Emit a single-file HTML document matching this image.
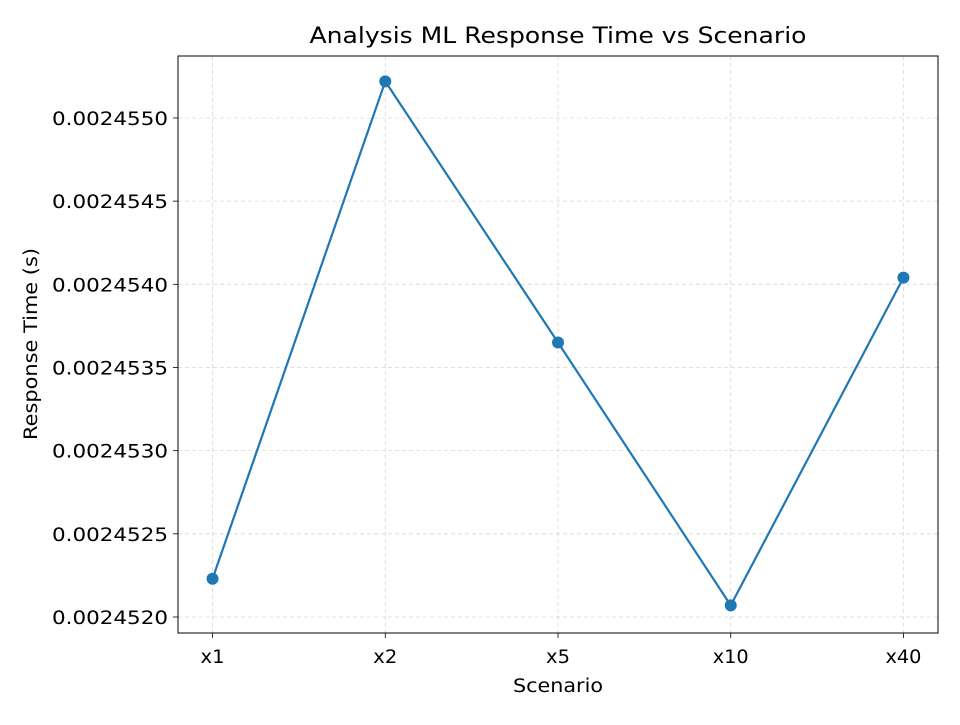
<!DOCTYPE html>
<html><head><meta charset="utf-8"><style>
body{margin:0;background:#fff;font-family:"Liberation Sans","DejaVu Sans",sans-serif;}
svg text{font-family:"DejaVu Sans","Liberation Sans",sans-serif;fill:#000;}
</style></head><body>
<svg id="chart" width="960" height="720"></svg>
<script>
const categories = ["x1","x2","x5","x10","x40"];
const responseTimes = [0.00245223,0.00245522,0.00245365,0.00245207,0.00245404];
const yTicks = [0.0024520,0.0024525,0.0024530,0.0024535,0.0024540,0.0024545,0.0024550];
const yTickLabels = ["0.0024520","0.0024525","0.0024530","0.0024535","0.0024540","0.0024545","0.0024550"];

const L=178,R=938,T=56,B=633;
const yMin=0.0024519038,yMax=0.0024553725;
const xs=i=>L+(i+0.2)/4.4*(R-L);
const ys=v=>B-(v-yMin)/(yMax-yMin)*(B-T);
const svg=document.getElementById('chart');
const NS='http://www.w3.org/2000/svg';
function mk(tag,attrs,parent){const e=document.createElementNS(NS,tag);for(const k in attrs)e.setAttribute(k,attrs[k]);(parent||svg).appendChild(e);return e;}

categories.forEach((c,i)=>{
  const x=xs(i);
  const g=mk('line',{x1:x,x2:x,y1:T,y2:B,stroke:'#b0b0b0','stroke-width':0.8,'stroke-dasharray':'4,3',opacity:0.5});
  
  
  const t=mk('line',{x1:x,x2:x,y1:B,y2:B+5,stroke:'#000','stroke-width':0.8});
  
  
  const lb=mk('text',{x:x,y:B+30,'text-anchor':'middle','font-size':18.5,textLength:c.length*12,lengthAdjust:'spacingAndGlyphs'});
  lb.textContent=c;
  
  
});
yTicks.forEach((v,i)=>{
  const y=ys(v);
  const g=mk('line',{x1:L,x2:R,y1:y,y2:y,stroke:'#b0b0b0','stroke-width':0.8,'stroke-dasharray':'4,3',opacity:0.5});
  
  
  const t=mk('line',{x1:L-5,x2:L,y1:y,y2:y,stroke:'#000','stroke-width':0.8});
  
  
  const lb=mk('text',{x:L-10,y:y+7,'text-anchor':'end','font-size':18.5,textLength:116,lengthAdjust:'spacingAndGlyphs'});
  lb.textContent=yTickLabels[i];
  
  
});
const frame=mk('rect',{x:L,y:T,width:R-L,height:B-T,fill:'none',stroke:'#000','stroke-width':1});


const pts=responseTimes.map((v,i)=>xs(i)+','+ys(v)).join(' ');
const line=mk('polyline',{points:pts,fill:'none',stroke:'#1f77b4','stroke-width':2.2});


responseTimes.forEach((v,i)=>{
  const c=mk('circle',{cx:xs(i),cy:ys(v),r:6,fill:'#1f77b4'});
  
  
});
const title=mk('text',{x:(L+R)/2,y:43,'text-anchor':'middle','font-size':22,textLength:497,lengthAdjust:'spacingAndGlyphs'});
title.textContent='Analysis ML Response Time vs Scenario';


const xt=mk('text',{x:(L+R)/2,y:692,'text-anchor':'middle','font-size':18.5,textLength:90,lengthAdjust:'spacingAndGlyphs'});
xt.textContent='Scenario';


const yt=mk('text',{x:37,y:344,'text-anchor':'middle','font-size':18.5,textLength:192,lengthAdjust:'spacingAndGlyphs',transform:'rotate(-90 37 344)'});
yt.textContent='Response Time (s)';


</script>
</body></html>
